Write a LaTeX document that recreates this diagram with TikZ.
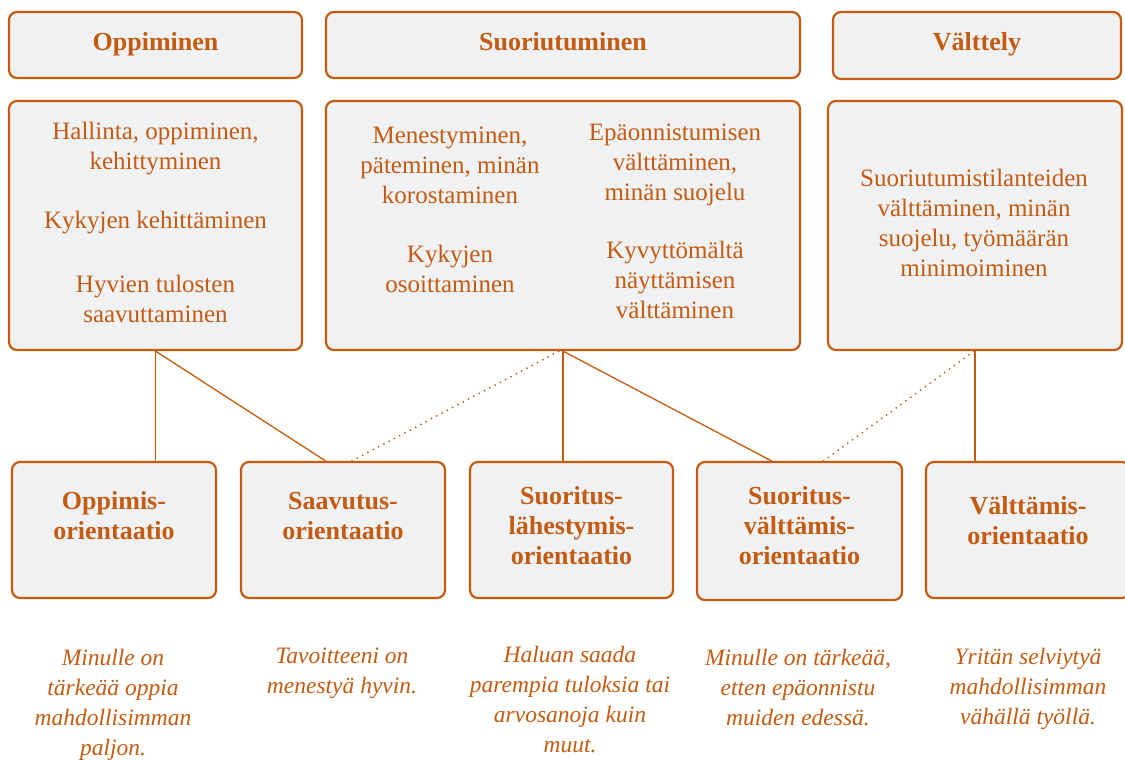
\documentclass[tikz,border=0pt]{standalone}
\usepackage{fontspec}
\setmainfont{Liberation Serif}
\usetikzlibrary{calc}
\definecolor{ora}{HTML}{C55A11}
\definecolor{boxfill}{HTML}{F0F1F3}
\tikzset{
  box/.style={draw=ora, fill=boxfill, line width=2.2pt, rounded corners=8pt, inner sep=0pt},
  hdr/.style={text=ora, font=\fontsize{26}{30}\selectfont\bfseries, align=center, inner sep=0pt, anchor=base},
  body/.style={text=ora, font=\fontsize{25}{30}\selectfont, align=center, inner sep=0pt},
  ori/.style={text=ora, font=\fontsize{26}{30}\selectfont\bfseries, align=center, inner sep=0pt},
  quote/.style={text=ora, font=\fontsize{23.5}{30}\selectfont\itshape, align=center, inner sep=0pt},
  link/.style={draw=ora, line width=1.3pt},
  dotlink/.style={draw=ora, line width=2pt, line cap=round, dash pattern=on 0pt off 6pt}
}
\begin{document}
\begin{tikzpicture}[x=1pt,y=-1pt]
\useasboundingbox (0,0) rectangle (1125,760);
% header boxes
\node[box, minimum width=293pt, minimum height=66pt] (hO) at (155.5,45) {};
\node[box, minimum width=474pt, minimum height=66pt] (hS) at (563,45) {};
\node[box, minimum width=288pt, minimum height=67pt] (hV) at (977,45.5) {};
\node[hdr] (thO) at (155.5,51) {Oppiminen};
\node[hdr] (thS) at (563,51) {Suoriutuminen};
\node[hdr] (thV) at (977,51) {Välttely};
% content boxes
\node[box, minimum width=293pt, minimum height=249pt] (cL) at (155.5,225.5) {};
\node[box, minimum width=474pt, minimum height=249pt] (cM) at (563,225.5) {};
\node[box, minimum width=294pt, minimum height=249pt] (cR) at (975,225.5) {};
\node[body] (tL1) at (155.5,148.5) {Hallinta, oppiminen,\\kehittyminen};
\node[body] (tL2) at (155.5,223) {Kykyjen kehittäminen};
\node[body] (tL3) at (155.5,298.5) {Hyvien tulosten\\saavuttaminen};
\node[body] (tM1) at (450,165) {Menestyminen,\\päteminen, minän\\korostaminen};
\node[body] (tM2) at (450,268.5) {Kykyjen\\osoittaminen};
\node[body] (tM3) at (675,165) {Epäonnistumisen\\välttäminen,\\minän suojelu};
\node[body] (tM4) at (675,279.5) {Kyvyttömältä\\näyttämisen\\välttäminen};
\node[body] (tR1) at (974,222.5) {Suoriutumistilanteiden\\välttäminen, minän\\suojelu, työmäärän\\minimoiminen};
% bottom boxes
\node[box, minimum width=204pt, minimum height=136pt] (oO) at (114,530) {};
\node[box, minimum width=204pt, minimum height=136pt] (sa) at (343,530) {};
\node[box, minimum width=203pt, minimum height=136pt] (la) at (571.5,530) {};
\node[box, minimum width=205pt, minimum height=138pt] (sv) at (799.5,531) {};
\node[box, minimum width=204pt, minimum height=136pt] (va) at (1028,530) {};
\node[ori] (toO) at (114,516) {Oppimis-\\orientaatio};
\node[ori] (tsa) at (343,516) {Saavutus-\\orientaatio};
\node[ori] (tla) at (571.5,525.5) {Suoritus-\\lähestymis-\\orientaatio};
\node[ori] (tsv) at (799.5,526) {Suoritus-\\välttämis-\\orientaatio};
\node[ori] (tva) at (1028,520.5) {Välttämis-\\orientaatio};
% quotes
\node[quote] (qO) at (113,704.5) {Minulle on\\tärkeää oppia\\mahdollisimman\\paljon.};
\node[quote] (qsa) at (342,673.5) {Tavoitteeni on\\menestyä hyvin.};
\node[quote] (qla) at (570,699.5) {Haluan saada\\parempia tuloksia tai\\arvosanoja kuin\\muut.};
\node[quote] (qsv) at (798,687.5) {Minulle on tärkeää,\\etten epäonnistu\\muiden edessä.};
\node[quote] (qva) at (1028,688.5) {Yritän selviytyä\\mahdollisimman\\vähällä työllä.};
% connectors
\draw[link] (cL.south) -- (cL.south |- oO.north);
\draw[link] (cL.south) -- ([xshift=-17.5pt]sa.north);
\draw[dotlink] ([xshift=9pt]sa.north) -- ([xshift=-4pt]cM.south);
\draw[link] (cM.south) -- (cM.south |- la.north);
\draw[link] (cM.south) -- ([xshift=-28pt]sv.north);
\draw[dotlink] ([xshift=24pt]sv.north) -- ([xshift=-1pt]cR.south);
\draw[link] (cR.south) -- (cR.south |- va.north);
\end{tikzpicture}
\end{document}
